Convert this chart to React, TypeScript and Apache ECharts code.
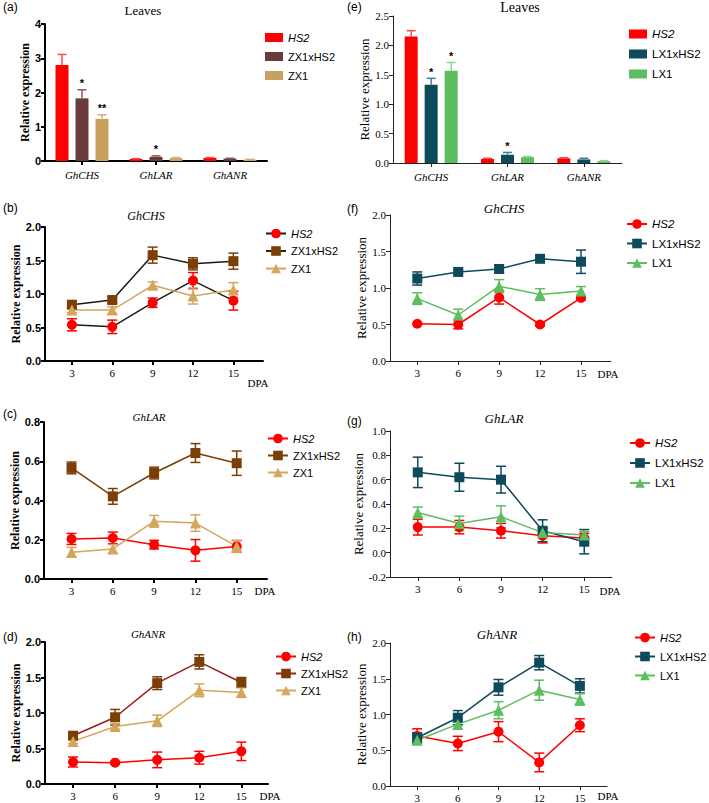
import React, { useEffect, useRef } from 'react';
import * as echarts from 'echarts';

// ---------- data ----------
const DPA = [3, 6, 9, 12, 15];
const GENES = ['GhCHS', 'GhLAR', 'GhANR'];

// (a) Leaves, ZX1 cross
const A_HS2 = [2.8, 0.06, 0.09];
const A_HS2_ERR = [0.31, 0.01, 0.01];
const A_ZXH = [1.83, 0.12, 0.07];
const A_ZXH_ERR = [0.25, 0.03, 0.01];
const A_ZX1 = [1.23, 0.08, 0.04];
const A_ZX1_ERR = [0.12, 0.02, 0.01];
const A_HS2_SIG = ['', '', ''];
const A_ZXH_SIG = ['*', '*', ''];
const A_ZX1_SIG = ['**', '', ''];

// (e) Leaves, LX1 cross
const E_HS2 = [2.15, 0.07, 0.08];
const E_HS2_ERR = [0.1, 0.01, 0.01];
const E_LXH = [1.33, 0.14, 0.06];
const E_LXH_ERR = [0.11, 0.04, 0.02];
const E_LX1 = [1.57, 0.1, 0.03];
const E_LX1_ERR = [0.14, 0.01, 0.01];
const E_HS2_SIG = ['', '', ''];
const E_LXH_SIG = ['*', '*', ''];
const E_LX1_SIG = ['*', '', ''];

// (b) GhCHS, ZX1 cross
const B_HS2 = [0.54, 0.51, 0.87, 1.2, 0.9];
const B_HS2_ERR = [0.09, 0.1, 0.07, 0.12, 0.14];
const B_ZXH = [0.84, 0.91, 1.58, 1.45, 1.49];
const B_ZXH_ERR = [0.05, 0.05, 0.12, 0.09, 0.12];
const B_ZX1 = [0.76, 0.76, 1.13, 0.97, 1.06];
const B_ZX1_ERR = [0.04, 0.05, 0.05, 0.12, 0.11];

// (c) GhLAR, ZX1 cross
const C_HS2 = [0.204, 0.209, 0.175, 0.146, 0.166];
const C_HS2_ERR = [0.028, 0.03, 0.022, 0.055, 0.03];
const C_ZXH = [0.566, 0.421, 0.54, 0.642, 0.59];
const C_ZXH_ERR = [0.03, 0.04, 0.03, 0.048, 0.062];
const C_ZX1 = [0.136, 0.153, 0.294, 0.285, 0.166];
const C_ZX1_ERR = [0.025, 0.022, 0.03, 0.042, 0.03];

// (d) GhANR, ZX1 cross
const D_HS2 = [0.31, 0.3, 0.34, 0.37, 0.46];
const D_HS2_ERR = [0.07, 0.02, 0.11, 0.09, 0.13];
const D_ZXH = [0.68, 0.94, 1.42, 1.72, 1.43];
const D_ZXH_ERR = [0.04, 0.11, 0.09, 0.1, 0.07];
const D_ZX1 = [0.6, 0.81, 0.89, 1.32, 1.29];
const D_ZX1_ERR = [0.03, 0.04, 0.08, 0.09, 0.07];

// (f) GhCHS, LX1 cross
const F_HS2 = [0.51, 0.5, 0.87, 0.5, 0.865];
const F_HS2_ERR = [0.01, 0.06, 0.09, 0.02, 0.03];
const F_LXH = [1.13, 1.22, 1.26, 1.4, 1.36];
const F_LXH_ERR = [0.09, 0.03, 0.05, 0.02, 0.16];
const F_LX1 = [0.855, 0.63, 1.025, 0.91, 0.96];
const F_LX1_ERR = [0.08, 0.08, 0.09, 0.08, 0.06];

// (g) GhLAR, LX1 cross
const G_HS2 = [0.21, 0.21, 0.18, 0.14, 0.12];
const G_HS2_ERR = [0.065, 0.055, 0.06, 0.06, 0.04];
const G_LXH = [0.66, 0.62, 0.6, 0.18, 0.09];
const G_LXH_ERR = [0.125, 0.115, 0.11, 0.09, 0.1];
const G_LX1 = [0.33, 0.24, 0.295, 0.165, 0.145];
const G_LX1_ERR = [0.045, 0.06, 0.09, 0.04, 0.03];

// (h) GhANR, LX1 cross
const H_HS2 = [0.7, 0.595, 0.76, 0.33, 0.85];
const H_HS2_ERR = [0.1, 0.1, 0.14, 0.13, 0.09];
const H_LXH = [0.675, 0.955, 1.38, 1.725, 1.4];
const H_LXH_ERR = [0.07, 0.1, 0.11, 0.1, 0.1];
const H_LX1 = [0.64, 0.865, 1.06, 1.34, 1.21];
const H_LX1_ERR = [0.05, 0.07, 0.12, 0.14, 0.08];

// ---------- styles ----------
const SERIF = '"Liberation Serif", "Times New Roman", serif';
const SANS = '"Liberation Sans", Arial, sans-serif';
const RED = '#ff0000';
const ZXH_BAR = '#6b3b3b';
const ZX1_BAR = '#c9a15e';
const ZXH = '#7b3f06';
const ZX1 = '#d4a65c';
const LXH = '#0d4a5c';
const LX1 = '#5dbe5f';

function yAxisOpt(gi: number, min: number, max: number, interval: number, left: boolean, nameGap: number, dec: number) {
  return {
    type: 'value', gridIndex: gi, min, max, interval,
    name: 'Relative expression', nameLocation: 'middle', nameGap,
    nameTextStyle: { fontFamily: SERIF, fontSize: left ? 12 : 13, fontWeight: left ? 'bold' : 'normal', color: '#000' },
    axisLine: { show: true, lineStyle: { color: left ? '#000' : '#222', width: left ? 2 : 1 } },
    axisTick: { show: true, length: 4, lineStyle: { color: left ? '#000' : '#222', width: left ? 2 : 1 } },
    axisLabel: {
      fontFamily: left ? SANS : SERIF, fontWeight: left ? 'bold' : 'normal', fontSize: 11, color: '#000', margin: 4,
      formatter: (v: number) => v.toFixed(dec),
    },
    splitLine: { show: false },
  };
}

function xLineAxis(gi: number, left: boolean, max: number) {
  return {
    type: 'value', gridIndex: gi, min: 1, max,
    axisLine: { show: true, onZero: false, lineStyle: { color: left ? '#000' : '#222', width: left ? 2 : 1 } },
    axisTick: { show: true, length: 4, customValues: DPA, lineStyle: { color: left ? '#000' : '#222', width: left ? 2 : 1 } },
    axisLabel: { customValues: DPA, fontFamily: SERIF, fontSize: 11, color: '#000', margin: 6 },
    splitLine: { show: false },
  };
}

function xBarAxis(gi: number, left: boolean) {
  return {
    type: 'category', gridIndex: gi, data: GENES,
    axisLine: { show: true, lineStyle: { color: left ? '#000' : '#222', width: left ? 2 : 1 } },
    axisTick: { show: true, alignWithLabel: true, length: 4, lineStyle: { color: left ? '#000' : '#222', width: left ? 2 : 1 } },
    axisLabel: { fontFamily: SERIF, fontStyle: 'italic', fontSize: 11, color: '#000', margin: 8 },
  };
}

type LineDef = { label: string; values: number[]; errs: number[]; symbol: string; color: string; lineColor: string };

function lineSeries(p: string, gi: number, defs: LineDef[]) {
  const out: any[] = [];
  defs.forEach((d) => {
    const color = d.color;
    out.push({
      type: 'custom', xAxisIndex: gi, yAxisIndex: gi, silent: true, z: 2,
      itemStyle: { color },
      data: DPA.map((x, i) => [x, d.values[i], d.errs[i]]),
      renderItem: (_params: any, api: any) => {
        const x = api.value(0), y = api.value(1), e = api.value(2);
        const t = api.coord([x, y + e]);
        const b = api.coord([x, y - e]);
        const hw = 5;
        const style = { stroke: color, lineWidth: 1.5, fill: null };
        return {
          type: 'group', children: [
            { type: 'line', shape: { x1: t[0], y1: t[1], x2: b[0], y2: b[1] }, style },
            { type: 'line', shape: { x1: t[0] - hw, y1: t[1], x2: t[0] + hw, y2: t[1] }, style },
            { type: 'line', shape: { x1: b[0] - hw, y1: b[1], x2: b[0] + hw, y2: b[1] }, style },
          ],
        };
      },
    });
    out.push({
      type: 'line', name: `${p}:${d.label}`, xAxisIndex: gi, yAxisIndex: gi, z: 3,
      data: DPA.map((x, i) => [x, d.values[i]]),
      symbol: d.symbol, symbolSize: d.symbol === 'triangle' ? 11 : 10,
      itemStyle: { color: d.color },
      lineStyle: { color: d.lineColor, width: 1.5 },
    });
  });
  return out;
}

type BarDef = { label: string; values: number[]; errs: number[]; sig: string[]; color: string; errColor: string };

const BAR_W = 13;
const BAR_GAP = 7;

function barSeries(p: string, gi: number, defs: BarDef[]) {
  const out: any[] = [];
  defs.forEach((d, k) => {
    out.push({
      type: 'bar', name: `${p}:${d.label}`, xAxisIndex: gi, yAxisIndex: gi,
      data: d.values, barWidth: BAR_W, barGap: `${(BAR_GAP / BAR_W) * 100}%`,
      itemStyle: { color: d.color }, z: 2,
    });
    const dx = (k - 1) * (BAR_W + BAR_GAP);
    const ec = d.errColor;
    out.push({
      type: 'custom', xAxisIndex: gi, yAxisIndex: gi, silent: true, z: 3,
      itemStyle: { color: '#000' },
      data: d.values.map((v, i) => [i, v, d.errs[i]]),
      renderItem: (params: any, api: any) => {
        const i = api.value(0), y = api.value(1), e = api.value(2);
        const base = api.coord([i, y]);
        const top = api.coord([i, y + e]);
        const x = base[0] + dx;
        const hw = 4.5;
        const style = { stroke: ec, lineWidth: 1.5, fill: null };
        const star = d.sig[params.dataIndex];
        const children: any[] = [
          { type: 'line', shape: { x1: x, y1: base[1], x2: x, y2: top[1] }, style },
          { type: 'line', shape: { x1: x - hw, y1: top[1], x2: x + hw, y2: top[1] }, style },
        ];
        if (star) {
          children.push({
            type: 'text', x, y: top[1] - 1,
            style: { text: star, fontSize: 11, fontWeight: 'bold', fontFamily: SANS, fill: '#000', textAlign: 'center', textVerticalAlign: 'bottom' },
          });
        }
        return { type: 'group', children };
      },
    });
  });
  return out;
}

function legendOpt(p: string, left: number, top: number, labels: string[], bar: boolean, fontSize: number, itemGap: number, extra?: Record<string, any>) {
  return {
    orient: 'vertical', left, top, itemGap, selectedMode: false,
    itemWidth: bar ? 18 : 20, itemHeight: bar ? 9 : 12,
    icon: bar ? 'rect' : undefined,
    data: labels.map((l) => ({ name: `${p}:${l}`, ...(extra && extra[l] ? extra[l] : {}) })),
    formatter: (n: string) => {
      const s = n.split(':')[1];
      return s === 'HS2' ? `{i|${s}}` : s;
    },
    textStyle: {
      fontFamily: SANS, fontSize, color: '#000',
      rich: { i: { fontFamily: SANS, fontSize, fontStyle: 'italic', color: '#000' } },
    },
  };
}

function txt(text: string, x: number, y: number, fontSize: number, font: string, italic = false, align = 'center') {
  return {
    type: 'text', x, y, silent: true,
    style: { text, fontSize, fontFamily: font, fontStyle: italic ? 'italic' : 'normal', fill: '#000', textAlign: align, textVerticalAlign: 'middle' },
  };
}

export default function App() {
  const ref = useRef<HTMLDivElement>(null);
  useEffect(() => {
    if (!ref.current) return;
    const chart = echarts.init(ref.current, undefined, { renderer: 'svg' });
    const grids = [
      { left: 45, top: 24, width: 222, height: 137 },   // 0 a
      { left: 393, top: 16, width: 229, height: 147 },  // 1 e
      { left: 45, top: 227, width: 218, height: 134 },  // 2 b
      { left: 390, top: 215, width: 221, height: 146 }, // 3 f
      { left: 44, top: 422, width: 223, height: 157 },  // 4 c
      { left: 390, top: 431, width: 222, height: 146 }, // 5 g
      { left: 45, top: 642, width: 223, height: 142 },  // 6 d
      { left: 390, top: 643, width: 217, height: 143 }, // 7 h
    ];
    const series = [
      ...barSeries('a', 0, [
        { label: 'HS2', values: A_HS2, errs: A_HS2_ERR, sig: A_HS2_SIG, color: RED, errColor: '#ff4a4a' },
        { label: 'ZX1xHS2', values: A_ZXH, errs: A_ZXH_ERR, sig: A_ZXH_SIG, color: ZXH_BAR, errColor: '#8a5a5a' },
        { label: 'ZX1', values: A_ZX1, errs: A_ZX1_ERR, sig: A_ZX1_SIG, color: ZX1_BAR, errColor: '#d4b07a' },
      ]),
      ...barSeries('e', 1, [
        { label: 'HS2', values: E_HS2, errs: E_HS2_ERR, sig: E_HS2_SIG, color: RED, errColor: '#ff4a4a' },
        { label: 'LX1xHS2', values: E_LXH, errs: E_LXH_ERR, sig: E_LXH_SIG, color: LXH, errColor: '#3f7f92' },
        { label: 'LX1', values: E_LX1, errs: E_LX1_ERR, sig: E_LX1_SIG, color: LX1, errColor: '#8fd48f' },
      ]),
      ...lineSeries('b', 2, [
        { label: 'HS2', values: B_HS2, errs: B_HS2_ERR, symbol: 'circle', color: RED, lineColor: '#1a1a1a' },
        { label: 'ZX1xHS2', values: B_ZXH, errs: B_ZXH_ERR, symbol: 'rect', color: ZXH, lineColor: '#1a1a1a' },
        { label: 'ZX1', values: B_ZX1, errs: B_ZX1_ERR, symbol: 'triangle', color: ZX1, lineColor: ZX1 },
      ]),
      ...lineSeries('f', 3, [
        { label: 'HS2', values: F_HS2, errs: F_HS2_ERR, symbol: 'circle', color: RED, lineColor: RED },
        { label: 'LX1xHS2', values: F_LXH, errs: F_LXH_ERR, symbol: 'rect', color: LXH, lineColor: LXH },
        { label: 'LX1', values: F_LX1, errs: F_LX1_ERR, symbol: 'triangle', color: LX1, lineColor: LX1 },
      ]),
      ...lineSeries('c', 4, [
        { label: 'HS2', values: C_HS2, errs: C_HS2_ERR, symbol: 'circle', color: RED, lineColor: RED },
        { label: 'ZX1xHS2', values: C_ZXH, errs: C_ZXH_ERR, symbol: 'rect', color: ZXH, lineColor: ZXH },
        { label: 'ZX1', values: C_ZX1, errs: C_ZX1_ERR, symbol: 'triangle', color: ZX1, lineColor: ZX1 },
      ]),
      ...lineSeries('g', 5, [
        { label: 'HS2', values: G_HS2, errs: G_HS2_ERR, symbol: 'circle', color: RED, lineColor: RED },
        { label: 'LX1xHS2', values: G_LXH, errs: G_LXH_ERR, symbol: 'rect', color: LXH, lineColor: LXH },
        { label: 'LX1', values: G_LX1, errs: G_LX1_ERR, symbol: 'triangle', color: LX1, lineColor: LX1 },
      ]),
      ...lineSeries('d', 6, [
        { label: 'HS2', values: D_HS2, errs: D_HS2_ERR, symbol: 'circle', color: RED, lineColor: RED },
        { label: 'ZX1xHS2', values: D_ZXH, errs: D_ZXH_ERR, symbol: 'rect', color: ZXH, lineColor: '#9b1c1c' },
        { label: 'ZX1', values: D_ZX1, errs: D_ZX1_ERR, symbol: 'triangle', color: ZX1, lineColor: ZX1 },
      ]),
      ...lineSeries('h', 7, [
        { label: 'HS2', values: H_HS2, errs: H_HS2_ERR, symbol: 'circle', color: RED, lineColor: RED },
        { label: 'LX1xHS2', values: H_LXH, errs: H_LXH_ERR, symbol: 'rect', color: LXH, lineColor: LXH },
        { label: 'LX1', values: H_LX1, errs: H_LX1_ERR, symbol: 'triangle', color: LX1, lineColor: LX1 },
      ]),
    ];
    const ZX = ['HS2', 'ZX1xHS2', 'ZX1'];
    const LX = ['HS2', 'LX1xHS2', 'LX1'];
    const option: any = {
      animation: false,
      backgroundColor: '#fff',
      grid: grids.map((g) => ({ ...g, containLabel: false })),
      xAxis: [
        xBarAxis(0, true), xBarAxis(1, false),
        xLineAxis(2, true, 17.2), xLineAxis(3, false, 17.2),
        xLineAxis(4, true, 17.2), xLineAxis(5, false, 17.0),
        xLineAxis(6, true, 16.9), xLineAxis(7, false, 17.0),
      ],
      yAxis: [
        yAxisOpt(0, 0, 4, 1, true, 12, 0),
        yAxisOpt(1, 0, 2.5, 0.5, false, 18, 1),
        yAxisOpt(2, 0, 2, 0.5, true, 22, 1),
        yAxisOpt(3, 0, 2, 0.5, false, 22, 1),
        yAxisOpt(4, 0, 0.8, 0.2, true, 21, 1),
        yAxisOpt(5, -0.2, 1.0, 0.2, false, 22, 1),
        yAxisOpt(6, 0, 2, 0.5, true, 21, 1),
        yAxisOpt(7, 0, 2, 0.5, false, 20, 1),
      ],
      legend: [
        legendOpt('a', 260, 27, ZX, true, 11, 8),
        legendOpt('e', 624, 23, LX, true, 11.5, 8),
        legendOpt('b', 260, 223, ZX, false, 11, 6.5, { ZX1xHS2: { lineStyle: { color: '#3a2410' } } }),
        legendOpt('f', 621, 213, LX, false, 11.5, 7.5),
        legendOpt('c', 262, 428, ZX, false, 11, 6),
        legendOpt('g', 624, 432, LX, false, 11.5, 8),
        legendOpt('d', 270, 646, ZX, false, 11, 6),
        legendOpt('h', 629, 627, LX, false, 11, 8),
      ],
      graphic: [
        txt('(a)', 3, 7, 12, SANS, false, 'left'),
        txt('(e)', 347, 7, 12, SANS, false, 'left'),
        txt('(b)', 3, 208, 12, SANS, false, 'left'),
        txt('(f)', 347, 209, 12, SANS, false, 'left'),
        txt('(c)', 3, 414, 12, SANS, false, 'left'),
        txt('(g)', 347, 421, 12, SANS, false, 'left'),
        txt('(d)', 3, 637, 12, SANS, false, 'left'),
        txt('(h)', 347, 637, 12, SANS, false, 'left'),
        txt('Leaves', 143, 10, 13, SERIF),
        txt('Leaves', 520, 7, 14, SERIF),
        txt('GhCHS', 146, 216, 12, SERIF, true),
        txt('GhCHS', 504, 208, 13, SERIF, true),
        txt('GhLAR', 149, 417, 11, SERIF, true),
        txt('GhLAR', 504, 418, 13, SERIF, true),
        txt('GhANR', 148, 634, 11, SERIF, true),
        txt('GhANR', 497, 634, 13, SERIF, true),
        txt('DPA', 258, 383, 11, SERIF),
        txt('DPA', 608, 374, 11, SERIF),
        txt('DPA', 265, 591, 11, SERIF),
        txt('DPA', 610, 591, 11, SERIF),
        txt('DPA', 270, 796, 11, SERIF),
        txt('DPA', 608, 796, 11, SERIF),
      ],
      series,
    };
    chart.setOption(option);
    return () => chart.dispose();
  }, []);
  return (
    <div style={{ position: 'absolute', left: 0, top: 0, width: 709, height: 803, background: '#fff' }}>
      <div ref={ref} style={{ width: 709, height: 803 }} />
    </div>
  );
}
